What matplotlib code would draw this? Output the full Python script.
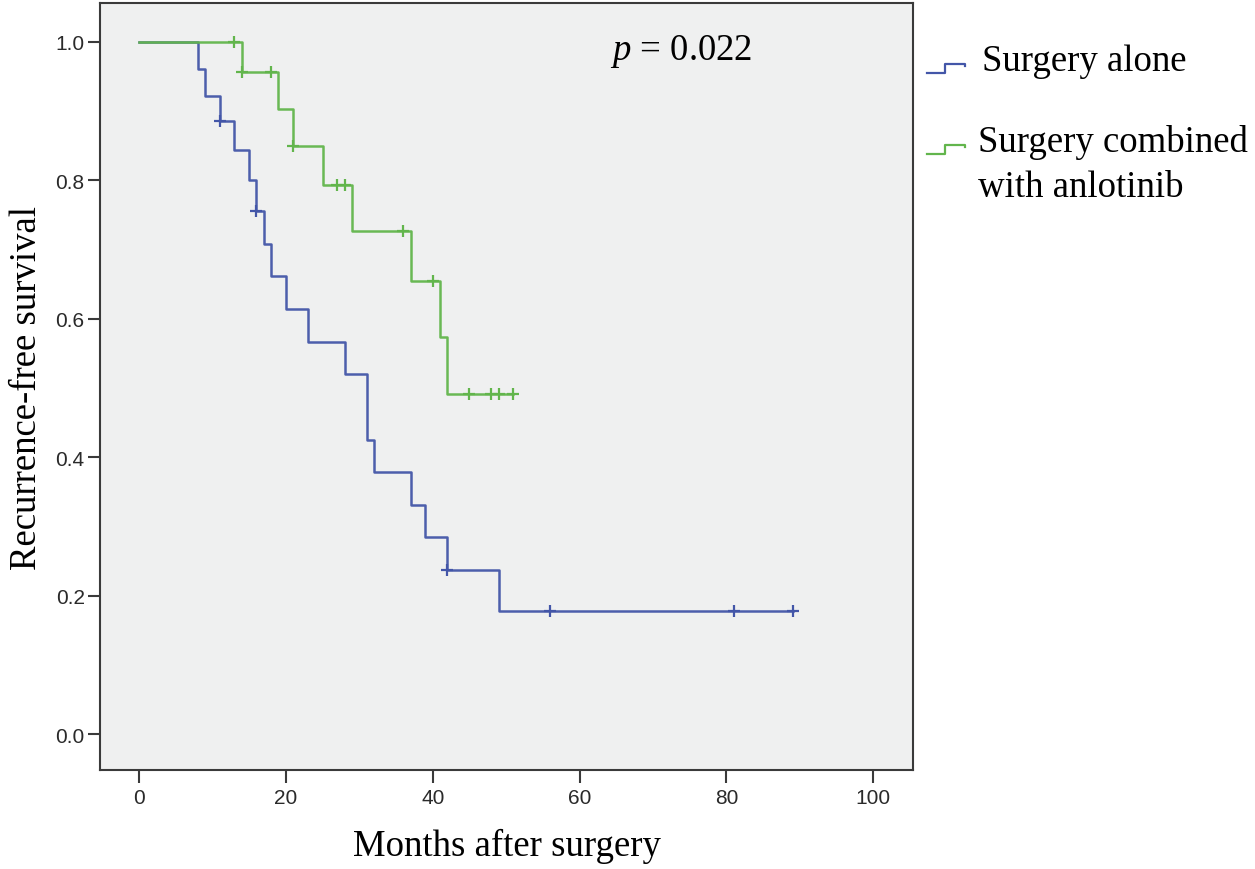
import matplotlib
matplotlib.use('Agg')

import numpy as np
import matplotlib.pyplot as plt
from matplotlib.lines import Line2D
from matplotlib.ticker import FormatStrFormatter


plt.rcParams.update({"font.family": ["Liberation Serif", "DejaVu Serif"],
                     "mathtext.fontset": "custom",
                     "mathtext.it": "Liberation Serif:italic",
                     "mathtext.rm": "Liberation Serif"})

# Kaplan-Meier steps (months, survival)
alone_time = [0, 8, 9, 11, 13, 15, 16, 17, 18, 20, 23, 28, 31, 32, 37, 39, 42, 49, 89]
alone_surv = [1.0, 0.961, 0.921, 0.885, 0.844, 0.800, 0.756, 0.708, 0.662, 0.614,
              0.567, 0.520, 0.425, 0.379, 0.331, 0.284, 0.237, 0.178, 0.178]
alone_censor = [11, 16, 42, 56, 81, 89]

combo_time = [0, 14, 19, 21, 25, 29, 37, 41, 42, 51]
combo_surv = [1.0, 0.956, 0.903, 0.850, 0.7935, 0.727, 0.655, 0.573, 0.491, 0.491]
combo_censor = [13, 14, 18, 21, 27, 28, 36, 40, 45, 48, 49, 51]

labels = ["Surgery alone", "Surgery combined\nwith anlotinib"]
colors = ["#4356a8", "#62b54c"]
p_text = r"$p$ = 0.022"

x_ticks = [0, 20, 40, 60, 80, 100]
y_ticks = [0.0, 0.2, 0.4, 0.6, 0.8, 1.0]

FS = 26.5


def censor_y(t_steps, s_steps, t_cens):
    idx = np.searchsorted(t_steps, t_cens, side='right') - 1
    return np.asarray(s_steps)[idx]


fig = plt.figure(figsize=(12.55, 8.7), dpi=100)
ax = fig.add_axes([100 / 1255, 1 - 771 / 870, 813 / 1255, 767 / 870])
ax.set_facecolor('#eff0f0')

curves = [(alone_time, alone_surv, alone_censor), (combo_time, combo_surv, combo_censor)]
for (t, s, c), col in zip(curves, colors):
    ax.step(t, s, where='post', color=col, lw=1.8, alpha=0.95)
    ax.plot(c, censor_y(t, s, c), ls='none', marker='+', ms=9,
            mew=1.6, color=col)

ax.set_xlim(-5.3, 105.4)
ax.set_ylim(-0.052, 1.056)
ax.set_xticks(x_ticks)
ax.set_yticks(y_ticks)
ax.yaxis.set_major_formatter(FormatStrFormatter('%.1f'))

for sp in ax.spines.values():
    sp.set_color('#3a3a3a')
    sp.set_linewidth(1.5)
ax.tick_params(length=9, width=1.5, color='#3a3a3a', labelcolor='#2a2a2a',
               labelsize=15)
ax.tick_params(axis='x', pad=4)
ax.tick_params(axis='y', pad=2)
for lab in ax.get_xticklabels() + ax.get_yticklabels():
    lab.set_family(["Liberation Sans", "DejaVu Sans"])

ax.set_xlabel("Months after surgery", fontsize=FS, labelpad=15)
ax.set_ylabel("Recurrence-free survival", fontsize=FS, labelpad=8)

ax.text(0.627, 0.927, p_text, transform=ax.transAxes, fontsize=FS,
        va='baseline', ha='left')


# legend drawn by hand to the right of the plot: small step glyphs + text
def step_icon(x0, y0, col):
    w, h = 38, 9
    xs = np.array([x0, x0 + 0.48 * w, x0 + 0.48 * w, x0 + w, x0 + w])
    ys = np.array([y0, y0, y0 - h, y0 - h, y0 - 0.75 * h])
    fig.add_artist(Line2D(xs / 1255, 1 - ys / 870, color=col, lw=1.6))


step_icon(927, 74, colors[0])
step_icon(927, 155, colors[1])
fig.text(982 / 1255, 1 - 71 / 870, labels[0], fontsize=FS, va='baseline')
for i, line in enumerate(labels[1].split("\n")):
    fig.text(978 / 1255, 1 - (152 + 45 * i) / 870, line, fontsize=FS,
             va='baseline')

fig.savefig("out.png", dpi=100)
